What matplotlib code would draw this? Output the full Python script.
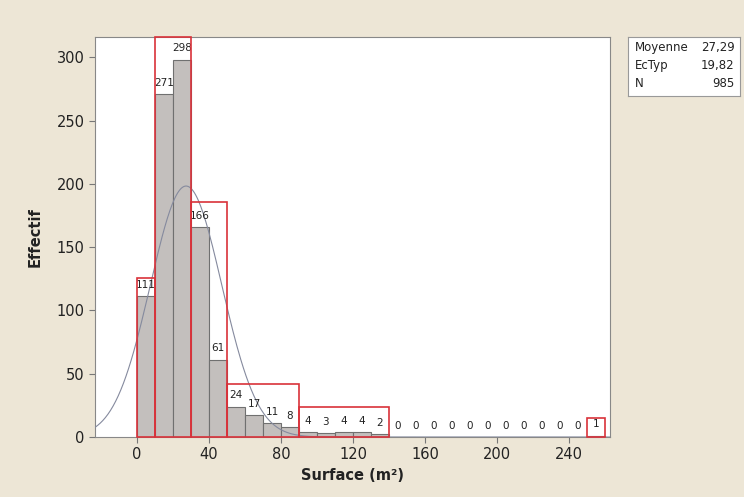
import numpy as np
import matplotlib
matplotlib.use("Agg")
import matplotlib.pyplot as plt
from matplotlib.patches import Rectangle

# histogram data (bin width 10 m2)
bin_edges = list(range(0, 270, 10))
counts = [111, 271, 298, 166, 61, 24, 17, 11, 8, 4, 3, 4, 4, 2,
          0, 0, 0, 0, 0, 0, 0, 0, 0, 0, 0, 1]
mean, stdev, n = 27.29, 19.82, 985

# red highlight frames: (x start, x end, top)
frames = [(0, 10, 126), (10, 30, 316), (30, 50, 186),
          (50, 90, 42), (90, 140, 24), (250, 260, 15)]

x_ticks = [0, 40, 80, 120, 160, 200, 240]
y_ticks = [0, 50, 100, 150, 200, 250, 300]

bg = '#ede6d6'
fig = plt.figure(figsize=(7.44, 4.97), dpi=100, facecolor=bg)
ax = fig.add_axes([0.1277, 0.1207, 0.6922, 0.8049])
ax.set_facecolor('white')

lefts = np.array(bin_edges[:-1])
ax.bar(lefts, counts, width=10, align='edge', color='#c3bfbd',
       edgecolor='#707070', linewidth=0.8, zorder=2)

for x, c in zip(lefts, counts):
    ax.text(x + 5, c + 5, str(c), ha='center', va='bottom', fontsize=7.5,
            color='#222222', zorder=4)

for x0, x1, top in frames:
    ax.add_patch(Rectangle((x0, 0), x1 - x0, top, fill=False,
                           edgecolor='#d9323a', linewidth=1.2, zorder=5,
                           clip_on=False))

xs = np.linspace(-23.3, 262.8, 400)
ys = n * 10 / (stdev * np.sqrt(2 * np.pi)) * np.exp(-0.5 * ((xs - mean) / stdev) ** 2)
ax.plot(xs, ys, color='#858a9e', linewidth=0.8, zorder=3)

ax.set_xlim(-23.3, 262.8)
ax.set_ylim(0, 316)
ax.set_xticks(x_ticks)
ax.set_yticks(y_ticks)
ax.tick_params(labelsize=10.5, colors='#777777', labelcolor='#222222', length=4)
for s in ax.spines.values():
    s.set_color('#888888')
ax.set_xlabel('Surface (m²)', fontsize=10.5, fontweight='bold', color='#222222')
ax.set_ylabel('Effectif', fontsize=10.5, fontweight='bold', color='#222222',
              labelpad=10)

# stats box
box = fig.add_axes([628 / 744, 1 - 96 / 497, 112 / 744, 59 / 497])
box.set_facecolor('white')
box.set_xticks([])
box.set_yticks([])
for s in box.spines.values():
    s.set_color('#999999')
rows = [('Moyenne', '27,29'), ('EcTyp', '19,82'), ('N', '985')]
for i, (k, v) in enumerate(rows):
    yy = 0.82 - i * 0.3
    box.text(0.06, yy, k, fontsize=8.5, va='center', ha='left', color='#222222')
    box.text(0.95, yy, v, fontsize=8.5, va='center', ha='right', color='#222222')

fig.savefig('out.png', dpi=100, facecolor=bg)
